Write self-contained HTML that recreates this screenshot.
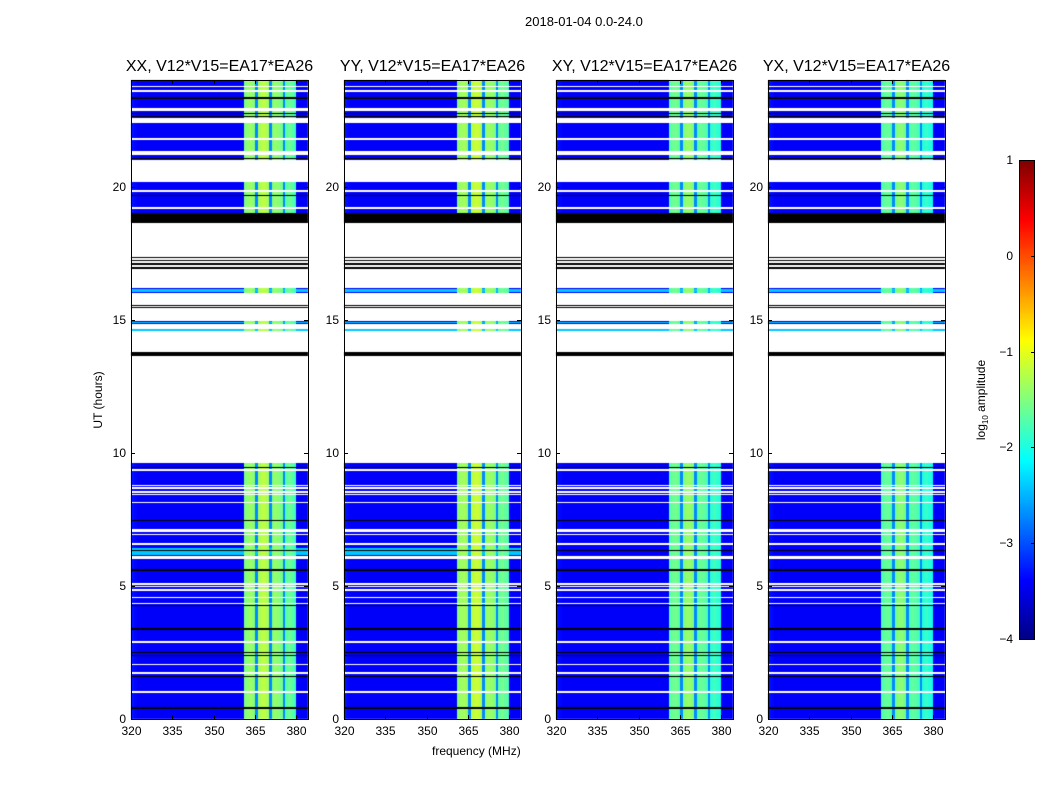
<!DOCTYPE html>
<html><head><meta charset="utf-8"><style>
body{margin:0;background:#fff;font-family:"Liberation Sans","DejaVu Sans",sans-serif;}
#wrap{position:relative;width:1050px;height:800px;overflow:hidden;}
.t{position:absolute;white-space:nowrap;color:#000;}
canvas{position:absolute;}
</style></head><body>
<div id="wrap">
<div class="t" style="left:525px;top:14px;font-size:13px;">2018-01-04 0.0-24.0</div>
<svg id="axes" width="1050" height="800" style="position:absolute;left:0;top:0"></svg>
</div>
<script>
// ---- data ----
const panelTitles = ["XX, V12*V15=EA17*EA26","YY, V12*V15=EA17*EA26","XY, V12*V15=EA17*EA26","YX, V12*V15=EA17*EA26"];
const panelBandOffset = [0.0, 0.05, -0.2, -0.25];
const freqChannels = [320,321,322,323,324,325,326,327,328,329,330,331,332,333,334,335,336,337,338,339,340,341,342,343,344,345,346,347,348,349,350,351,352,353,354,355,356,357,358,359,360,361,362,363,364,365,366,367,368,369,370,371,372,373,374,375,376,377,378,379,380,381,382,383];
const channelLevel = [-3.3,-3.35,-3.4,-3.4,-3.4,-3.4,-3.4,-3.4,-3.4,-3.4,-3.4,-3.4,-3.4,-3.4,-3.4,-3.4,-3.4,-3.4,-3.4,-3.4,-3.4,-3.4,-3.4,-3.4,-3.4,-3.4,-3.4,-3.4,-3.4,-3.4,-3.4,-3.4,-3.4,-3.4,-3.4,-3.4,-3.4,-3.4,-3.4,-3.4,-3.4,-1.5,-1.4,-1.35,-1.45,-2.7,-1.3,-1.2,-1.2,-1.3,-2.7,-1.5,-1.4,-1.45,-1.55,-2.7,-1.7,-1.6,-1.7,-1.8,-3.4,-3.4,-3.4,-3.4];
const whiteBands = [[9.6,13.65],[13.8,14.55],[14.65,14.85],[14.95,16.0],[16.2,18.65],[20.15,21.0],[22.4,22.55],[9.3,9.38],[8.75,8.81],[8.64,8.7],[8.49,8.55],[8.38,8.44],[8.11,8.17],[7.06,7.12],[6.91,6.97],[6.54,6.6],[6.02,6.12],[4.8,4.9],[4.95,5.0],[5.05,5.14],[4.55,4.61],[4.32,4.38],[2.86,2.92],[2.03,2.09],[1.7,1.76],[0.98,1.04],[23.55,23.62],[23.7,23.74],[22.85,22.95],[21.75,21.82],[21.25,21.32],[21.18,21.22],[19.8,19.88],[19.15,19.22]];
const blackBands = [[9.43,9.48],[7.44,7.5],[6.31,6.36],[5.57,5.65],[4.25,4.3],[3.35,3.4],[2.47,2.52],[2.37,2.42],[1.55,1.6],[0.38,0.43],[13.65,13.8],[15.42,15.46],[15.5,15.54],[16.9,16.95],[17.05,17.1],[17.2,17.25],[17.32,17.37],[18.65,19.0],[19.63,19.68],[21.02,21.08],[22.58,22.64],[22.7,22.76],[23.27,23.35]];
const cyanBands = [[6.15,6.45],[16.05,16.15],[14.55,14.62],[14.87,14.93]];
const cbTicks = [1,0,-1,-2,-3,-4];
const xTicks = [320,335,350,365,380];
const yTicks = [0,5,10,15,20];

// ---- geometry ----
const panelsX = [131,344,556,768], PW = 177, PT = 80, PB = 719;
const fmin = 320, fmax = 384.2, tmin = 0, tmax = 24;
const xs = (i,f)=>panelsX[i] + (f-fmin)/(fmax-fmin)*PW;
const ys = t=>PB - (t-tmin)/(tmax-tmin)*(PB-PT);
function jet(v){let t=(v+4)/5;t=Math.max(0,Math.min(1,t));
 const c=x=>Math.round(255*Math.max(0,Math.min(1,x)));
 return `rgb(${c(Math.min(4*t-1.5,-4*t+4.5))},${c(Math.min(4*t-0.5,-4*t+3.5))},${c(Math.min(4*t+0.5,-4*t+2.5))})`;}
const inB=(arr,t)=>arr.some(b=>t>=b[0]&&t<b[1]);
const wrap=document.getElementById('wrap'), svg=document.getElementById('axes');
const NS="http://www.w3.org/2000/svg";
function line(x1,y1,x2,y2,name){const l=document.createElementNS(NS,'line');l.setAttribute('x1',x1);l.setAttribute('y1',y1);l.setAttribute('x2',x2);l.setAttribute('y2',y2);l.setAttribute('stroke','#000');l.setAttribute('stroke-width','1');


svg.appendChild(l);}
function label(x,y,txt,name,extra){const d=document.createElement('div');d.className='t';d.textContent=txt;d.style.left=x+'px';d.style.top=y+'px';d.style.fontSize='12px';if(extra)Object.assign(d.style,extra);


wrap.appendChild(d);return d;}

const dt=0.04;
for(let p=0;p<4;p++){
 const cv=document.createElement('canvas');cv.width=1050;cv.height=800;cv.style.left='0';cv.style.top='0';
 
 
 wrap.insertBefore(cv,svg);
 const g=cv.getContext('2d');
 for(let t=0;t<tmax-1e-9;t+=dt){
  const tm=t+dt/2;
  const y0=Math.round(ys(t+dt)), y1=Math.round(ys(t)), h=y1-y0;
  if(h<=0) continue;
  if(inB(blackBands,tm)){g.fillStyle='#000';g.fillRect(panelsX[p],y0,PW,h);continue;}
  if(inB(whiteBands,tm)) continue;
  const cy=inB(cyanBands,tm)&&(p<2||tm>7);
  for(let c=0;c<freqChannels.length;c++){
   let v=channelLevel[c]; if(v>-2.5) v+=panelBandOffset[p];
   if(cy) v=Math.max(v,-2.4);
   const x0=Math.round(xs(p,freqChannels[c])), x1=Math.round(xs(p,c+1<freqChannels.length?freqChannels[c+1]:fmax));
   g.fillStyle=jet(v);g.fillRect(x0,y0,x1-x0,h);
  }
 }
 const r=document.createElementNS(NS,'rect');r.setAttribute('x',panelsX[p]+0.5);r.setAttribute('y',PT+0.5);r.setAttribute('width',PW);r.setAttribute('height',PB-PT);r.setAttribute('fill','none');r.setAttribute('stroke','#000');
 
 
 svg.appendChild(r);
 label(panelsX[p]+PW/2,58,panelTitles[p],'panel-title',{fontSize:'16px',transform:'translateX(-50%)'});
 xTicks.forEach(f=>{const x=Math.round(xs(p,f))+0.5;line(x,PB,x,PB-4,'x-tick');line(x,PT,x,PT+4,'x-tick');label(x,724,String(f),'x-tick-label',{transform:'translateX(-50%)'});});
 yTicks.forEach(t=>{const y=Math.round(ys(t))+0.5;line(panelsX[p],y,panelsX[p]+4,y,'y-tick');line(panelsX[p]+PW,y,panelsX[p]+PW-4,y,'y-tick');label(panelsX[p]-5,y-8,String(t),'y-tick-label',{transform:'translateX(-100%)'});});
}
label(432,744,'frequency (MHz)','x-axis-title',{fontSize:'12px'});
label(98,400,'UT (hours)','y-axis-title',{transform:'translate(-50%,-50%) rotate(-90deg)'});
const cb=document.createElement('canvas');cb.width=16;cb.height=480;cb.style.left='1019px';cb.style.top='160px';


wrap.insertBefore(cb,svg);
const cg=cb.getContext('2d');
for(let i=0;i<480;i++){cg.fillStyle=jet(1-5*i/480);cg.fillRect(0,i,16,1);}
const cr=document.createElementNS(NS,'rect');cr.setAttribute('x',1019.5);cr.setAttribute('y',160.5);cr.setAttribute('width',15);cr.setAttribute('height',479);cr.setAttribute('fill','none');cr.setAttribute('stroke','#000');


svg.appendChild(cr);
cbTicks.forEach(v=>{const y=Math.round(160+(1-v)/5*479)+0.5;line(1031,y,1035,y,'colorbar-tick');label(1013,y-8,v<0?'\u2212'+(-v):String(v),'colorbar-tick-label',{transform:'translateX(-100%)'});});
const cl=label(982,400,'','colorbar-label',{transform:'translate(-50%,-50%) rotate(-90deg)',fontSize:'12px'});
cl.innerHTML='log<sub style="font-size:8px">10</sub> amplitude';
</script>
</body></html>
